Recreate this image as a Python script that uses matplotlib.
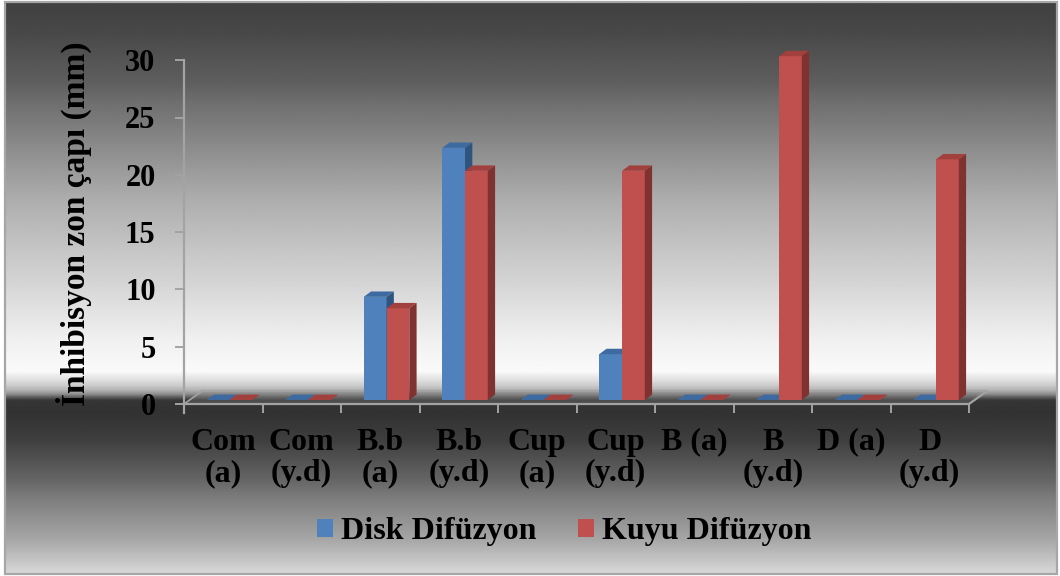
import numpy as np
import matplotlib
matplotlib.use("Agg")
import matplotlib.pyplot as plt
from matplotlib.patches import Polygon, Rectangle, Patch

plt.rcParams["font.family"] = ["Liberation Serif", "DejaVu Serif"]
plt.rcParams["font.weight"] = "bold"

categories = ["Com\n(a)", "Com\n(y.d)", "B.b\n(a)", "B.b\n(y.d)", "Cup\n(a)",
              "Cup\n(y.d)", "B (a)", "B\n(y.d)", "D (a)", "D\n(y.d)"]
disk = [0, 0, 9, 22, 0, 4, 0, 0, 0, 0]
kuyu = [0, 0, 8, 20, 0, 20, 0, 30, 0, 21]
series_names = ["Disk Difüzyon", "Kuyu Difüzyon"]

W, H = 1060, 576
fig = plt.figure(figsize=(W / 100, H / 100), dpi=100)
fig.patch.set_facecolor("white")

# chrome-style vertical gradient behind everything
bg = fig.add_axes([0, 0, 1, 1], zorder=-5)
bg.set_xlim(0, W)
bg.set_ylim(H, 0)
bg.axis("off")
stops_y = [0, 30, 80, 100, 150, 200, 250, 290, 340, 372, 376, 381, 386, 391,
           395, 398, 401, 412, 440, 480, 500, 540, 576]
stops_g = [64, 72, 94, 110, 142, 174, 198, 216, 240, 250, 236, 222, 204, 178,
           140, 92, 54, 50, 62, 100, 126, 165, 218]
yy = np.arange(H) + 0.5
grad = np.interp(yy, stops_y, stops_g) / 255.0
img = np.repeat(grad[:, None], 2, axis=1)
bg.imshow(img, cmap="gray", vmin=0, vmax=1, aspect="auto",
          extent=(5, 1057, 574, 2), interpolation="bilinear")
bg.add_patch(Rectangle((5, 2), 1052, 572, fill=False, edgecolor="#a6a6a6", lw=1.6))

# plot axes laid out in pixel terms: category width 78.5 px, 5 units = 57.3 px
x0_px, cat_px, y0_px, unit_px = 184, 78.5, 404, 57.3 / 5
left_px, right_px, top_px, bot_px = 184, 1000, 50, 420
ax = fig.add_axes([left_px / W, (H - bot_px) / H, (right_px - left_px) / W, (bot_px - top_px) / H])
ax.set_facecolor("none")
ax.set_xlim(0, (right_px - x0_px) / cat_px)
ax.set_ylim(-(bot_px - y0_px) / unit_px, (y0_px - top_px) / unit_px)

n = len(categories)
GRID = "#a3a3a3"

# floor of the 3-D box
fdx, fdy = 0.23, 1.13
floor = Polygon([(0, 0), (n, 0), (n + fdx, fdy), (fdx, fdy)], closed=True,
                facecolor="#7a7a7a", alpha=0.35, edgecolor="none", zorder=1)
ax.add_patch(floor)
ax.plot([fdx, n + fdx, n], [fdy, fdy, 0], color=GRID, lw=1.6, zorder=1.5)
ax.plot([0, fdx], [0, fdy], color=GRID, lw=1.2, zorder=1.5)

# bars: front face via ax.bar, top and side faces from the same rectangles
bar_w = 0.29
base = 0.35
ddx, ddy = 0.093, 0.47
xs = np.arange(n) + 0.5
styles = [("#4f81bd", "#3d6aa0", "#2f5480"), ("#c0504d", "#a2403d", "#7f3230")]
for k, (vals, (front, top, side)) in enumerate(zip([disk, kuyu], styles)):
    lefts = xs - 0.21 + k * bar_w
    bars = ax.bar(lefts, vals, width=bar_w, bottom=base, align="edge",
                  color=front, linewidth=0, zorder=3 + k)
    for r in bars:
        x, y, w, h = r.get_x(), r.get_y(), r.get_width(), r.get_height()
        ax.add_patch(Polygon([(x, y + h), (x + w, y + h), (x + w + ddx, y + h + ddy),
                              (x + ddx, y + h + ddy)], closed=True, facecolor=top,
                             edgecolor="none", zorder=3 + k))
        if h > 0:
            ax.add_patch(Polygon([(x + w, y), (x + w + ddx, y + ddy),
                                  (x + w + ddx, y + h + ddy), (x + w, y + h)],
                                 closed=True, facecolor=side, edgecolor="none",
                                 zorder=3 + k))

# axes lines and ticks
for s in ["top", "right"]:
    ax.spines[s].set_visible(False)
ax.spines["left"].set_position(("data", 0))
ax.spines["left"].set_bounds(-9 / unit_px, 30)
ax.spines["bottom"].set_position(("data", 0))
ax.spines["bottom"].set_bounds(0, n)
for s in ["left", "bottom"]:
    ax.spines[s].set_color(GRID)
    ax.spines[s].set_linewidth(1.6)
    ax.spines[s].set_zorder(2)

ax.set_yticks(range(0, 31, 5))
ax.tick_params(axis="y", direction="out", length=6.5, width=1.4, color=GRID,
               labelsize=22, pad=14)
ax.set_xticks(xs)
ax.set_xticklabels(categories, linespacing=1.1)
ax.set_xticks(np.arange(n + 1), minor=True)
ax.tick_params(axis="x", which="major", length=0, labelsize=23, pad=17)
ax.tick_params(axis="x", which="minor", direction="out", length=6.5, width=1.4,
               color=GRID)
for lab in ax.get_xticklabels() + ax.get_yticklabels():
    lab.set_fontweight("bold")

fig.text(74 / W, 1 - 224 / H, "İnhibisyon zon çapı (mm)", rotation=90,
         ha="center", va="center", fontsize=24, fontweight="bold")

handles = [Patch(facecolor=c[0], edgecolor="none") for c in styles]
fig.legend(handles, series_names, loc="center", bbox_to_anchor=(564 / W, 1 - 532 / H),
           ncol=2, frameon=False, handlelength=0.5, handleheight=0.5,
           handletextpad=0.25, columnspacing=1.3, prop={"weight": "bold", "size": 23})

fig.savefig("out.png", dpi=100)
